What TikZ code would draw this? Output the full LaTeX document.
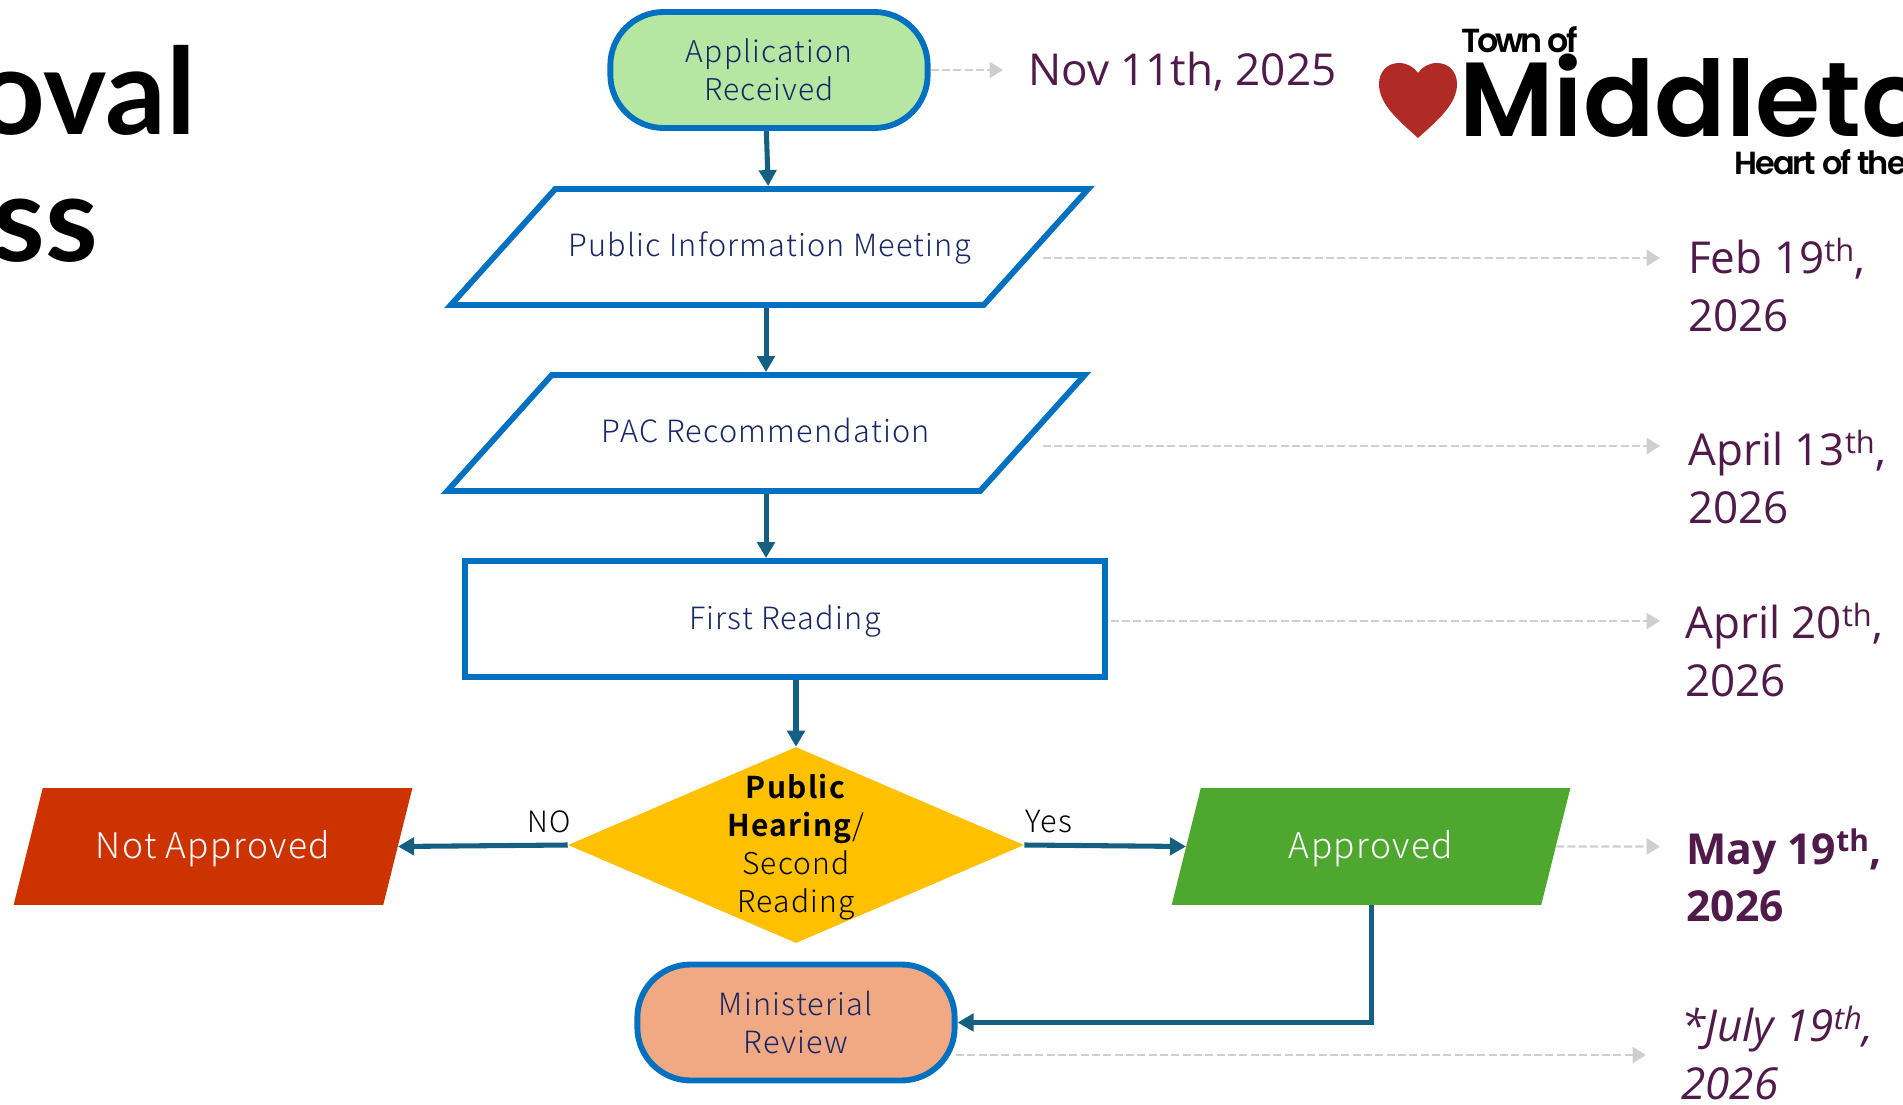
\documentclass[tikz,border=0pt]{standalone}
\usepackage{fontspec}
\usepackage{xcolor}
\usetikzlibrary{shapes.geometric,arrows.meta}
\setmainfont{Open Sans}
\newfontfamily\stepfont[LetterSpace=4,BoldFont={Noto Sans CJK JP Bold}]{Noto Sans CJK JP Light}
\newfontfamily\logofont[LetterSpace=-6]{Poppins SemiBold}
\newfontfamily\townfont[LetterSpace=-9]{Poppins SemiBold}
\newfontfamily\namefont{Poppins SemiBold}
\newfontfamily\titlefont{Lato}
\definecolor{stepblue}{HTML}{0070C0}
\definecolor{arrowblue}{HTML}{156082}
\definecolor{steptext}{HTML}{172765}
\definecolor{datepurple}{HTML}{501A4A}
\definecolor{dashgrey}{HTML}{CFCFCF}
\tikzset{
  stepnode/.style={draw=stepblue,line width=4.4pt,align=center,text=steptext,font=\stepfont\fontsize{23}{28.5}\selectfont,inner sep=0pt},
  pillnode/.style={stepnode,rectangle,rounded corners=40pt,minimum width=238pt,minimum height=87pt},
  slantnode/.style={stepnode,trapezium,trapezium left angle=48,trapezium right angle=132,minimum width=478pt,text height=51pt,text depth=36pt,trapezium stretches body=true},
  sidenode/.style={trapezium,trapezium left angle=76,trapezium right angle=104,trapezium stretches body=true,minimum width=299pt,text height=53pt,text depth=34.5pt,inner sep=0pt,text=white,font=\stepfont\fontsize{26.5}{28.5}\selectfont},
  datenode/.style={anchor=north west,align=left,inner sep=0pt,text=datepurple,font=\fontsize{33}{43}\selectfont},
  flowarrow/.style={draw=arrowblue,line width=3.8pt,-{Triangle[length=12pt,width=13pt]}},
  datearrow/.style={draw=dashgrey,line width=1.8pt,dash pattern=on 6pt off 2.5pt,-{Triangle[length=10pt,width=12pt]}},
}
\begin{document}
\begin{tikzpicture}[x=0.75pt,y=0.75pt,yscale=-1,xscale=1]
\useasboundingbox (0,0) rectangle (1903,1105);
\clip (0,0) rectangle (1903,1105);

% Title
\node (tlone) [anchor=base east,inner sep=0pt,font=\titlefont\bfseries\fontsize{90}{90}\selectfont] at (196,135) {oval};
\node (tltwo) [anchor=base east,inner sep=0pt,font=\titlefont\bfseries\fontsize{90}{90}\selectfont] at (98,262) {ss};

% Logo
\path [fill={rgb, 255:red, 176; green, 42; blue, 38 }] (1418,138) .. controls (1398,120) and (1379,104) .. (1379,84) .. controls (1379,72) and (1387,63) .. (1399,63) .. controls (1407,63) and (1414,67) .. (1418,73) .. controls (1422,67) and (1429,63) .. (1437,63) .. controls (1449,63) and (1457,72) .. (1457,84) .. controls (1457,104) and (1438,120) .. (1418,138) -- cycle;
\node (lgtown) [anchor=base west,inner sep=0pt,font=\townfont\fontsize{25}{25}\selectfont] at (1461,53) {Town of};
\node (lgname) [anchor=base west,inner sep=0pt,font=\namefont\fontsize{79}{79}\selectfont] at (1459,137) {Middleto};
\node (lgheart) [anchor=base west,inner sep=0pt,font=\logofont\fontsize{24}{24}\selectfont] at (1734,175) {Heart of the};

% Steps
\node (appl) [pillnode,fill={rgb, 255:red, 181; green, 230; blue, 162 },font=\stepfont\fontsize{22.5}{28.5}\selectfont] at (769,70) {Application\\Received};
\node (pubm) [slantnode] at (769.5,247) {Public Information Meeting};
\node (pacr) [slantnode] at (766,433) {PAC Recommendation};
\node (frst) [stepnode,rectangle,minimum width=480pt,text height=51pt,text depth=36pt] at (785,619) {First Reading};
\node (hear) [diamond,aspect=2.34,fill={rgb, 255:red, 255; green, 192; blue, 0 },inner sep=0pt,minimum width=342pt,minimum height=147pt] at (796,845) {};
\node (hrtx) [inner sep=0pt,align=center,font=\stepfont\fontsize{22.5}{28.5}\selectfont] at (796,847) {\textbf{Public}\\\textbf{Hearing}/\\Second\\Reading};
\node (nota) [sidenode,fill={rgb, 255:red, 204; green, 51; blue, 0 }] at (213,846.5) {Not Approved};
\node (appr) [sidenode,fill={rgb, 255:red, 78; green, 167; blue, 46 }] at (1371,846.5) {Approved};
\node (mini) [pillnode,fill={rgb, 255:red, 241; green, 169; blue, 131 }] at (796,1022.5) {Ministerial\\Review};

% Labels
\node (lbno) [inner sep=0pt,font=\stepfont\fontsize{22}{24}\selectfont] at (549,822) {NO};
\node (lbyes) [inner sep=0pt,font=\stepfont\fontsize{23}{24}\selectfont] at (1049,822) {Yes};

% Dates
\node (dtone) [anchor=base west,inner sep=0pt,text=datepurple,font=\fontsize{33}{36}\selectfont] at (1028,86) {Nov 11th, 2025};
\node (dttwo) [datenode] at (1688,238) {Feb 19\textsuperscript{th},\\2026};
\node (dtthr) [datenode] at (1688,430) {April 13\textsuperscript{th},\\2026};
\node (dtfou) [datenode] at (1685,603) {April 20\textsuperscript{th},\\2026};
\node (dtfiv) [datenode,font=\bfseries\fontsize{32}{43}\selectfont] at (1686,829) {May 19\textsuperscript{th},\\2026};
\node (dtsix) [datenode,font=\itshape\fontsize{33}{43}\selectfont] at (1681,1006) {*July 19\textsuperscript{th},\\2026};

%Straight Lines
\coordinate (endone) at (1003,70);
\coordinate (endtwo) at (1660,258);
\coordinate (endthr) at (1660,446);
\coordinate (endfou) at (1660,621);
\coordinate (endfiv) at (1660,846.5);
\coordinate (endsix) at (1646,1055);
\coordinate (stsix) at (956,1055);
\draw [datearrow] (appl.east) -- (endone);
\draw [datearrow,shorten <=2pt] (pubm.east |- endtwo) -- (endtwo);
\draw [datearrow,shorten <=2pt] (pubm.east |- endthr) -- (endthr);
\draw [datearrow,shorten <=2pt] (frst.east |- endfou) -- (endfou);
\draw [datearrow] (appr.east) -- (endfiv);
\draw [datearrow] (stsix) -- (endsix);

\draw [flowarrow] ([xshift=-2pt]appl.south) -- ([xshift=-1pt]pubm.north);
\draw [flowarrow] (pacr.north |- pubm.south) -- (pacr.north);
\draw [flowarrow] (pacr.south) -- (pacr.south |- frst.north);
\draw [flowarrow] (hear.north |- frst.south) -- (hear.north);
\draw [flowarrow] (hear.west) -- (nota.east);
\draw [flowarrow] (hear.east) -- (appr.west);
\draw [flowarrow] (appr.south) |- (mini.east);

\end{tikzpicture}
\end{document}
